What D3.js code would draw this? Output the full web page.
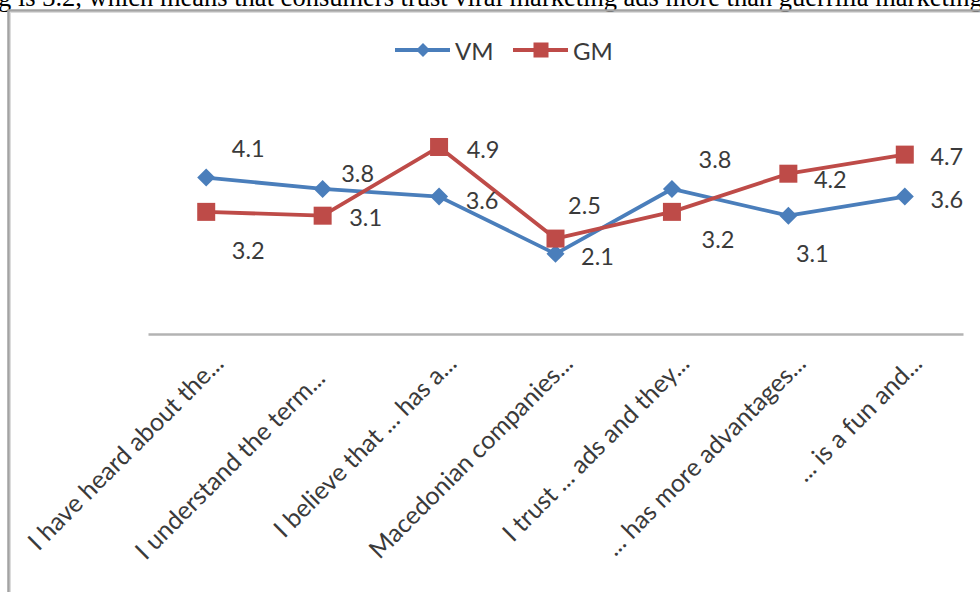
<!DOCTYPE html>
<html>
<head>
<meta charset="utf-8">
<script src="https://cdn.jsdelivr.net/npm/d3@7"></script>
<style>
  html, body { margin: 0; padding: 0; background: #fff; }
  svg { display: block; }
</style>
</head>
<body>
<svg id="chart" width="980" height="592"></svg>
<script>
// Survey statements (truncated as on the axis) and mean ratings
const categories = [
  "I have heard about the...",
  "I understand the term...",
  "I believe that ... has a...",
  "Macedonian companies...",
  "I trust ... ads and they...",
  "... has more advantages...",
  "... is a fun and..."
];
const seriesNames = ["VM", "GM"];
const vmValues = [4.1, 3.8, 3.6, 2.1, 3.8, 3.1, 3.6];
const gmValues = [3.2, 3.1, 4.9, 2.5, 3.2, 4.2, 4.7];

// Label placement relative to each point (dx, dy)
const vmLabelOffsets = [[42,-30],[35,-16],[43,3],[42,2],[43,-30],[24,37],[42,2]];
const gmLabelOffsets = [[42,38],[43,1],[44,2],[29,-34],[46,27],[42,5],[42,1]];
// Extra slide along the rotated axis label
const categoryNudge = [0, -21, 0, 0, 0, 0, 0];

const colors = { VM: "#4a7ebb", GM: "#be4b48" };
const textColor = "#3a3a3a";
const labelFont = "Lato, 'Open Sans', sans-serif";

const svg = d3.select("#chart");

// Running text of the surrounding page, clipped at the top edge
svg.append("text")
  .attr("x", -2).attr("y", 6)
  .attr("font-family", "'Liberation Serif', 'Times New Roman', serif")
  .attr("font-size", 26.5)
  .attr("fill", "#000")
  .text("g is 3.2, which means that consumers trust viral marketing ads more than guerrilla marketing ads.");

// Chart frame
svg.append("rect")
  .attr("x", 8.5).attr("y", 10.5).attr("width", 1000).attr("height", 600)
  .attr("fill", "none").attr("stroke", "#a3a3a3").attr("stroke-width", 2.5);
svg.append("rect")
  .attr("x", 10.5).attr("y", 12.5).attr("width", 1000).attr("height", 600)
  .attr("fill", "none").attr("stroke", "#dcdcdc").attr("stroke-width", 1);

// Scales
const x = d3.scaleBand().domain(categories).range([148, 963]);
const cx = c => x(c) + x.bandwidth() / 2;
const y = d3.scaleLinear().domain([0, 6]).range([334, 105]);

// Category axis
const axis = d3.axisBottom(x).tickSize(0).tickPadding(0);
const axisG = svg.append("g").attr("transform", "translate(0,334)").call(axis);
axisG.select(".domain").attr("stroke", "#b3b3b3").attr("stroke-width", 2.5);
axisG.selectAll(".tick text")
  .attr("font-family", labelFont)
  .attr("font-size", 25)
  .attr("fill", textColor)
  .attr("text-anchor", "end")
  .attr("dy", null)
  .attr("transform", (d, i) => `translate(19,31) rotate(-45) translate(${categoryNudge[i]},0)`);

// Lines and markers
const series = [
  { name: "VM", values: vmValues, offsets: vmLabelOffsets },
  { name: "GM", values: gmValues, offsets: gmLabelOffsets }
];
const line = d3.line().x((d, i) => cx(categories[i])).y(d => y(d));

function drawMarker(g, name, px, py, size) {
  if (name === "VM") {
    const h = size / 2;
    g.append("path")
      .attr("d", `M${px},${py - h}L${px + h},${py}L${px},${py + h}L${px - h},${py}Z`)
      .attr("fill", colors.VM);
  } else {
    g.append("rect")
      .attr("x", px - size / 2).attr("y", py - size / 2)
      .attr("width", size).attr("height", size)
      .attr("fill", colors.GM);
  }
}

series.forEach(s => {
  const g = svg.append("g");
  g.append("path")
    .datum(s.values)
    .attr("fill", "none")
    .attr("stroke", colors[s.name])
    .attr("stroke-width", 3.8)
    .attr("stroke-linejoin", "round")
    .attr("d", line);
  s.values.forEach((v, i) => {
    drawMarker(g, s.name, cx(categories[i]), y(v), 18);
  });
});

// Data labels drawn last so they sit above the lines
series.forEach(s => {
  svg.append("g").selectAll("text")
    .data(s.values)
    .join("text")
    .attr("x", (d, i) => cx(categories[i]) + s.offsets[i][0])
    .attr("y", (d, i) => y(d) + s.offsets[i][1])
    .attr("text-anchor", "middle")
    .attr("dominant-baseline", "central")
    .attr("font-family", labelFont)
    .attr("font-size", 23.5)
    .attr("fill", textColor)
    .text(d => d.toFixed(1));
});

// Legend
const legend = svg.append("g");
const legendItems = [
  { name: "VM", x0: 395 },
  { name: "GM", x0: 513 }
];
legendItems.forEach(item => {
  legend.append("line")
    .attr("x1", item.x0).attr("x2", item.x0 + 55)
    .attr("y1", 50).attr("y2", 50)
    .attr("stroke", colors[item.name]).attr("stroke-width", 3.8);
  drawMarker(legend, item.name, item.x0 + 28, 50, item.name === "VM" ? 14 : 15);
  legend.append("text")
    .attr("x", item.x0 + 60).attr("y", 50)
    .attr("dominant-baseline", "central")
    .attr("font-family", labelFont)
    .attr("font-size", 24)
    .attr("fill", textColor)
    .text(item.name);
});
</script>
</body>
</html>
